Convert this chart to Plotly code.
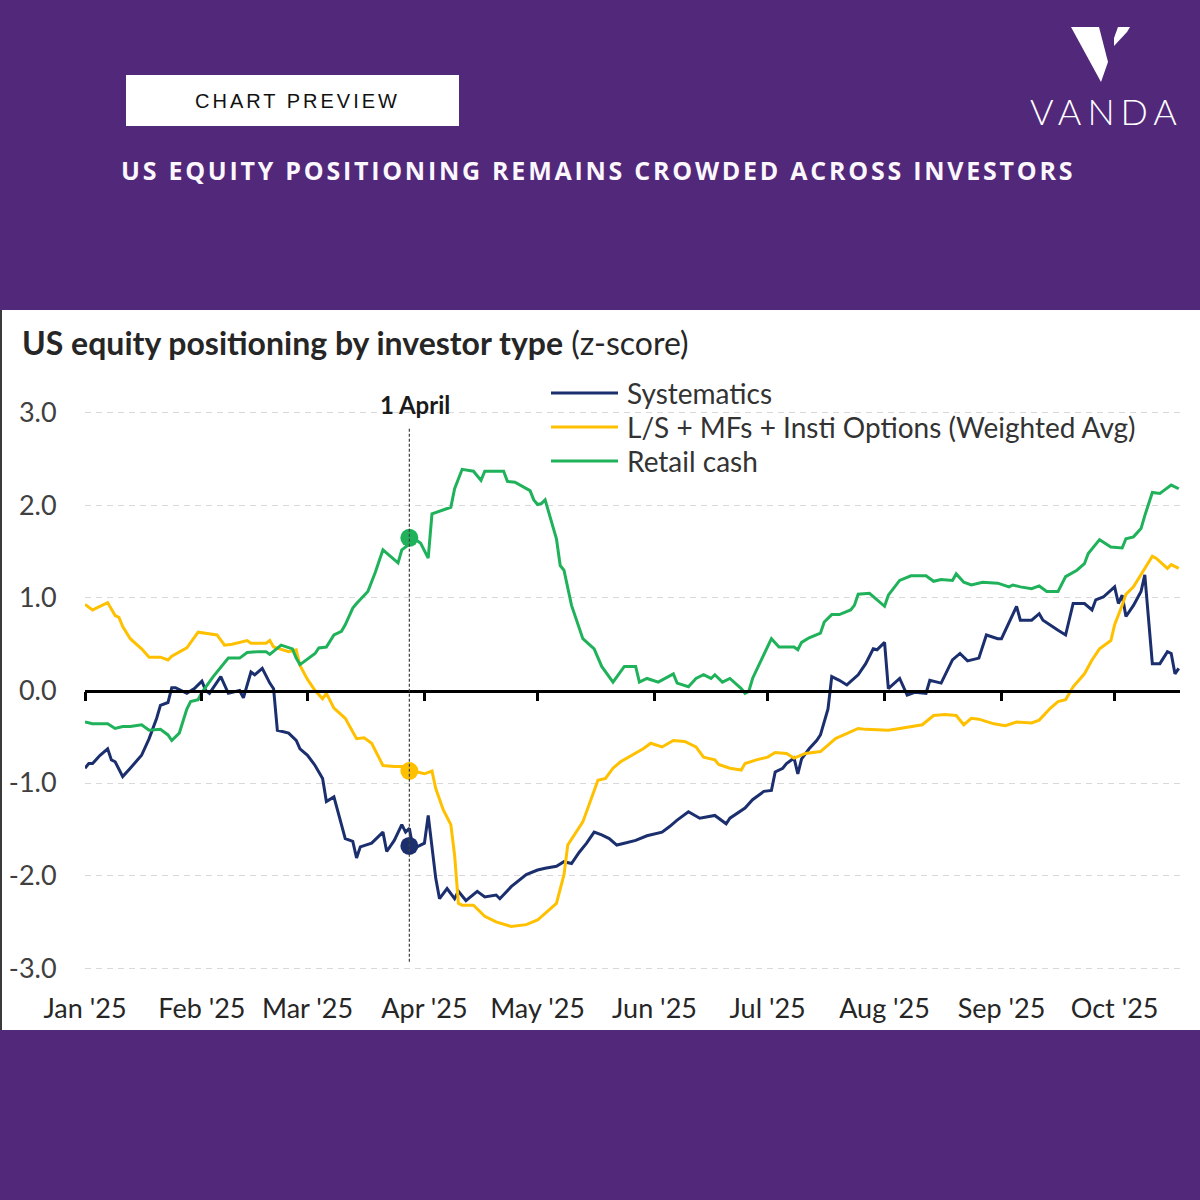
import plotly.graph_objects as go


##########
# Inputs #
##########

HEADER_LABEL = "CHART PREVIEW"
HEADER_TITLE = "US EQUITY POSITIONING REMAINS CROWDED ACROSS INVESTORS"
BRAND = "VANDA"
CHART_TITLE = "<b>US equity positioning by investor type</b> (z-score)"
EVENT_LABEL = "1 April"

SERIES_NAMES = [
    "Systematics",
    "L/S + MFs + Insti Options (Weighted Avg)",
    "Retail cash",
]

SYSTEMATICS_DATES = [
    "2025-01-01", "2025-01-02", "2025-01-03", "2025-01-05", "2025-01-07", "2025-01-08",
    "2025-01-09", "2025-01-11", "2025-01-13", "2025-01-16", "2025-01-18", "2025-01-20",
    "2025-01-21", "2025-01-23", "2025-01-24", "2025-01-25", "2025-01-28", "2025-01-30",
    "2025-02-01", "2025-02-02", "2025-02-03", "2025-02-06", "2025-02-08", "2025-02-10",
    "2025-02-11", "2025-02-12", "2025-02-14", "2025-02-15", "2025-02-17", "2025-02-19",
    "2025-02-20", "2025-02-21", "2025-02-24", "2025-02-26", "2025-02-27", "2025-03-01",
    "2025-03-03", "2025-03-05", "2025-03-06", "2025-03-08", "2025-03-10", "2025-03-11",
    "2025-03-13", "2025-03-14", "2025-03-15", "2025-03-18", "2025-03-21", "2025-03-22",
    "2025-03-24", "2025-03-26", "2025-03-27", "2025-03-28", "2025-03-29", "2025-04-01",
    "2025-04-02", "2025-04-04", "2025-04-05", "2025-04-07", "2025-04-09", "2025-04-10",
    "2025-04-12", "2025-04-15", "2025-04-17", "2025-04-20", "2025-04-21", "2025-04-24",
    "2025-04-28", "2025-05-01", "2025-05-03", "2025-05-06", "2025-05-08", "2025-05-10",
    "2025-05-12", "2025-05-14", "2025-05-16", "2025-05-18", "2025-05-20", "2025-05-22",
    "2025-05-24", "2025-05-27", "2025-05-30", "2025-06-03", "2025-06-05", "2025-06-07",
    "2025-06-10", "2025-06-13", "2025-06-17", "2025-06-20", "2025-06-21", "2025-06-25",
    "2025-06-27", "2025-06-30", "2025-07-02", "2025-07-03", "2025-07-05", "2025-07-06",
    "2025-07-08", "2025-07-09", "2025-07-10", "2025-07-12", "2025-07-14", "2025-07-15",
    "2025-07-17", "2025-07-18", "2025-07-20", "2025-07-22", "2025-07-25", "2025-07-27",
    "2025-07-29", "2025-07-30", "2025-08-01", "2025-08-02", "2025-08-05", "2025-08-07",
    "2025-08-09", "2025-08-12", "2025-08-13", "2025-08-16", "2025-08-19", "2025-08-21",
    "2025-08-23", "2025-08-26", "2025-08-28", "2025-08-31", "2025-09-01", "2025-09-05",
    "2025-09-06", "2025-09-09", "2025-09-11", "2025-09-12", "2025-09-16", "2025-09-18",
    "2025-09-20", "2025-09-23", "2025-09-25", "2025-09-26", "2025-09-28", "2025-10-01",
    "2025-10-02", "2025-10-03", "2025-10-04", "2025-10-06", "2025-10-08", "2025-10-09",
    "2025-10-11", "2025-10-13", "2025-10-15", "2025-10-16", "2025-10-17", "2025-10-18",
]
SYSTEMATICS_VALUES = [
    -0.84, -0.79, -0.79, -0.70, -0.63, -0.75,
    -0.77, -0.93, -0.84, -0.70, -0.52, -0.30,
    -0.16, -0.13, 0.03, 0.03, -0.03, 0.02,
    0.10, 0.00, -0.03, 0.15, -0.03, -0.01,
    0.00, -0.08, 0.20, 0.17, 0.24, 0.08,
    0.02, -0.43, -0.46, -0.54, -0.63, -0.70,
    -0.81, -0.95, -1.20, -1.15, -1.44, -1.60,
    -1.63, -1.81, -1.69, -1.65, -1.53, -1.74,
    -1.62, -1.45, -1.53, -1.49, -1.71, -1.65,
    -1.35, -2.03, -2.25, -2.14, -2.25, -2.17,
    -2.27, -2.17, -2.23, -2.21, -2.25, -2.12,
    -1.99, -1.94, -1.92, -1.90, -1.85, -1.87,
    -1.75, -1.65, -1.53, -1.56, -1.60, -1.67,
    -1.65, -1.62, -1.57, -1.53, -1.47, -1.40,
    -1.31, -1.38, -1.35, -1.44, -1.38, -1.27,
    -1.18, -1.09, -1.08, -0.88, -0.84, -0.79,
    -0.73, -0.90, -0.74, -0.63, -0.54, -0.48,
    -0.20, 0.15, 0.11, 0.06, 0.17, 0.29,
    0.45, 0.44, 0.52, 0.02, 0.13, -0.05,
    -0.02, -0.03, 0.11, 0.08, 0.33, 0.40,
    0.32, 0.35, 0.60, 0.56, 0.56, 0.91,
    0.76, 0.76, 0.83, 0.76, 0.65, 0.60,
    0.94, 0.94, 0.87, 0.98, 1.01, 1.12,
    0.94, 1.03, 0.80, 0.92, 1.07, 1.25,
    0.29, 0.29, 0.42, 0.40, 0.18, 0.24,
]

LS_MF_OPTIONS_DATES = [
    "2025-01-01", "2025-01-03", "2025-01-04", "2025-01-07", "2025-01-09", "2025-01-10",
    "2025-01-11", "2025-01-13", "2025-01-16", "2025-01-18", "2025-01-21", "2025-01-23",
    "2025-01-24", "2025-01-28", "2025-01-31", "2025-02-02", "2025-02-05", "2025-02-07",
    "2025-02-09", "2025-02-13", "2025-02-14", "2025-02-18", "2025-02-19", "2025-02-20",
    "2025-02-24", "2025-02-26", "2025-02-27", "2025-03-01", "2025-03-03", "2025-03-05",
    "2025-03-06", "2025-03-08", "2025-03-11", "2025-03-14", "2025-03-16", "2025-03-18",
    "2025-03-21", "2025-03-24", "2025-03-26", "2025-03-28", "2025-04-01", "2025-04-03",
    "2025-04-04", "2025-04-06", "2025-04-08", "2025-04-09", "2025-04-10", "2025-04-11",
    "2025-04-14", "2025-04-17", "2025-04-20", "2025-04-24", "2025-04-28", "2025-05-01",
    "2025-05-06", "2025-05-08", "2025-05-09", "2025-05-13", "2025-05-16", "2025-05-17",
    "2025-05-19", "2025-05-21", "2025-05-23", "2025-05-26", "2025-05-29", "2025-05-31",
    "2025-06-03", "2025-06-06", "2025-06-09", "2025-06-12", "2025-06-14", "2025-06-17",
    "2025-06-18", "2025-06-21", "2025-06-24", "2025-06-25", "2025-06-28", "2025-07-01",
    "2025-07-03", "2025-07-06", "2025-07-08", "2025-07-11", "2025-07-15", "2025-07-17",
    "2025-07-19", "2025-07-20", "2025-07-25", "2025-07-27", "2025-08-02", "2025-08-05",
    "2025-08-08", "2025-08-11", "2025-08-14", "2025-08-17", "2025-08-20", "2025-08-22",
    "2025-08-24", "2025-08-26", "2025-08-30", "2025-09-02", "2025-09-05", "2025-09-09",
    "2025-09-11", "2025-09-14", "2025-09-16", "2025-09-18", "2025-09-20", "2025-09-23",
    "2025-09-25", "2025-09-27", "2025-09-30", "2025-10-01", "2025-10-03", "2025-10-04",
    "2025-10-06", "2025-10-09", "2025-10-11", "2025-10-12", "2025-10-15", "2025-10-16",
    "2025-10-18",
]
LS_MF_OPTIONS_VALUES = [
    0.93, 0.87, 0.89, 0.95, 0.81, 0.79,
    0.69, 0.56, 0.45, 0.36, 0.36, 0.33,
    0.37, 0.46, 0.63, 0.62, 0.60, 0.49,
    0.50, 0.54, 0.51, 0.51, 0.54, 0.47,
    0.42, 0.44, 0.27, 0.12, 0.00, -0.09,
    -0.03, -0.19, -0.30, -0.52, -0.51, -0.57,
    -0.81, -0.82, -0.82, -0.86, -0.90, -0.87,
    -1.06, -1.29, -1.45, -1.78, -2.30, -2.32,
    -2.32, -2.44, -2.50, -2.55, -2.53, -2.48,
    -2.30, -1.99, -1.67, -1.42, -1.09, -0.97,
    -0.95, -0.84, -0.77, -0.70, -0.63, -0.57,
    -0.61, -0.54, -0.55, -0.61, -0.72, -0.75,
    -0.80, -0.84, -0.86, -0.79, -0.75, -0.72,
    -0.67, -0.68, -0.73, -0.68, -0.66, -0.59,
    -0.52, -0.50, -0.41, -0.42, -0.43, -0.41,
    -0.39, -0.37, -0.27, -0.26, -0.27, -0.37,
    -0.30, -0.31, -0.36, -0.38, -0.34, -0.35,
    -0.32, -0.19, -0.12, -0.10, 0.04, 0.18,
    0.33, 0.45, 0.54, 0.71, 0.92, 1.04,
    1.12, 1.32, 1.45, 1.43, 1.32, 1.36,
    1.32,
]

RETAIL_CASH_DATES = [
    "2025-01-01", "2025-01-03", "2025-01-07", "2025-01-09", "2025-01-11", "2025-01-13",
    "2025-01-16", "2025-01-18", "2025-01-21", "2025-01-23", "2025-01-24", "2025-01-26",
    "2025-01-28", "2025-01-29", "2025-01-31", "2025-02-01", "2025-02-04", "2025-02-07",
    "2025-02-08", "2025-02-11", "2025-02-13", "2025-02-16", "2025-02-18", "2025-02-19",
    "2025-02-22", "2025-02-25", "2025-02-26", "2025-02-27", "2025-03-03", "2025-03-04",
    "2025-03-06", "2025-03-08", "2025-03-10", "2025-03-11", "2025-03-13", "2025-03-14",
    "2025-03-17", "2025-03-19", "2025-03-21", "2025-03-25", "2025-03-26", "2025-03-28",
    "2025-03-29", "2025-03-31", "2025-04-02", "2025-04-03", "2025-04-05", "2025-04-08",
    "2025-04-09", "2025-04-11", "2025-04-14", "2025-04-16", "2025-04-17", "2025-04-22",
    "2025-04-23", "2025-04-25", "2025-04-29", "2025-04-30", "2025-05-01", "2025-05-02",
    "2025-05-03", "2025-05-06", "2025-05-07", "2025-05-08", "2025-05-10", "2025-05-13",
    "2025-05-16", "2025-05-18", "2025-05-21", "2025-05-24", "2025-05-27", "2025-05-28",
    "2025-05-30", "2025-06-02", "2025-06-06", "2025-06-07", "2025-06-10", "2025-06-12",
    "2025-06-14", "2025-06-16", "2025-06-17", "2025-06-19", "2025-06-21", "2025-06-24",
    "2025-06-25", "2025-06-26", "2025-06-27", "2025-07-02", "2025-07-04", "2025-07-08",
    "2025-07-09", "2025-07-10", "2025-07-12", "2025-07-15", "2025-07-16", "2025-07-18",
    "2025-07-20", "2025-07-23", "2025-07-24", "2025-07-25", "2025-07-28", "2025-07-30",
    "2025-08-01", "2025-08-02", "2025-08-05", "2025-08-08", "2025-08-12", "2025-08-14",
    "2025-08-16", "2025-08-19", "2025-08-20", "2025-08-22", "2025-08-24", "2025-08-27",
    "2025-08-31", "2025-09-03", "2025-09-04", "2025-09-06", "2025-09-09", "2025-09-11",
    "2025-09-13", "2025-09-16", "2025-09-18", "2025-09-21", "2025-09-23", "2025-09-24",
    "2025-09-27", "2025-09-30", "2025-10-03", "2025-10-04", "2025-10-06", "2025-10-08",
    "2025-10-09", "2025-10-11", "2025-10-13", "2025-10-14", "2025-10-16", "2025-10-18",
]
RETAIL_CASH_VALUES = [
    -0.34, -0.36, -0.36, -0.41, -0.39, -0.39,
    -0.37, -0.43, -0.42, -0.48, -0.54, -0.46,
    -0.20, -0.12, -0.10, -0.02, 0.15, 0.31,
    0.35, 0.35, 0.41, 0.42, 0.42, 0.39,
    0.49, 0.45, 0.35, 0.28, 0.40, 0.46,
    0.47, 0.60, 0.64, 0.71, 0.89, 0.94,
    1.07, 1.28, 1.52, 1.38, 1.52, 1.58,
    1.65, 1.59, 1.43, 1.91, 1.94, 1.98,
    2.18, 2.39, 2.37, 2.27, 2.37, 2.37,
    2.26, 2.25, 2.16, 2.06, 2.01, 2.02,
    2.06, 1.64, 1.35, 1.30, 0.92, 0.56,
    0.45, 0.26, 0.09, 0.26, 0.26, 0.09,
    0.13, 0.09, 0.18, 0.08, 0.04, 0.13,
    0.17, 0.13, 0.17, 0.09, 0.13, 0.02,
    -0.03, -0.01, 0.13, 0.56, 0.47, 0.47,
    0.44, 0.52, 0.57, 0.62, 0.74, 0.82,
    0.82, 0.87, 0.92, 1.04, 1.05, 0.98,
    0.91, 1.03, 1.19, 1.24, 1.24, 1.18,
    1.20, 1.19, 1.26, 1.17, 1.14, 1.17,
    1.16, 1.12, 1.14, 1.12, 1.10, 1.13,
    1.07, 1.07, 1.23, 1.30, 1.37, 1.48,
    1.63, 1.55, 1.54, 1.64, 1.66, 1.75,
    1.89, 2.14, 2.13, 2.16, 2.22, 2.18,
]

# Highlighted readings on the "1 April" line (Systematics, L/S..., Retail cash)
EVENT_DATE = "2025-03-28"
EVENT_VALUES = [-1.68, -0.87, 1.65]

Y_TICKS = [-3, -2, -1, 0, 1, 2, 3]
Y_TICK_LABELS = ["-3.0", "-2.0", "-1.0", "0.0", "1.0", "2.0", "3.0"]
X_RANGE = ["2025-01-01", "2025-10-18 08:00"]
Y_RANGE = [-3.15, 3.15]


######################
# Maps and constants #
######################

SERIES_COLOURS = ["#1b2f6e", "#ffc000", "#1fb25a"]
PURPLE = "#52287a"
TEXT_COLOUR = "#333333"
GRID_COLOUR = "#d9d9d9"
CHART_FONT = "Lato, Open Sans, sans-serif"
LINE_WIDTH = 3

WIDTH = 1200
HEIGHT = 1200
MARGIN = {"l": 85, "r": 20, "t": 399, "b": 218}


def paper_x(px):
    return (px - MARGIN["l"]) / (WIDTH - MARGIN["l"] - MARGIN["r"])


def paper_y(py):
    return (HEIGHT - MARGIN["b"] - py) / (HEIGHT - MARGIN["t"] - MARGIN["b"])


def paper_path(points):
    return "M " + " L ".join(f"{paper_x(x)},{paper_y(y)}" for x, y in points) + " Z"


##########
# Traces #
##########

figure = go.Figure()

series = [
    (SYSTEMATICS_DATES, SYSTEMATICS_VALUES),
    (LS_MF_OPTIONS_DATES, LS_MF_OPTIONS_VALUES),
    (RETAIL_CASH_DATES, RETAIL_CASH_VALUES),
]
for (dates, values), name, colour in zip(series, SERIES_NAMES, SERIES_COLOURS):
    figure.add_trace(
        go.Scatter(
            x=dates,
            y=values,
            name=name,
            mode="lines",
            line={"color": colour, "width": LINE_WIDTH},
            showlegend=False,
        )
    )

# Dots where the 1 April line meets each series
figure.add_trace(
    go.Scatter(
        x=[EVENT_DATE] * len(EVENT_VALUES),
        y=EVENT_VALUES,
        mode="markers",
        marker={"color": SERIES_COLOURS, "size": 18},
        xaxis="x2",
        showlegend=False,
    )
)


##########
# Shapes #
##########

shapes = [
    # White chart panel
    dict(type="rect", xref="paper", yref="paper",
         x0=paper_x(0), x1=paper_x(1200), y0=paper_y(1030), y1=paper_y(310),
         fillcolor="white", line={"width": 0}, layer="below"),
    dict(type="line", xref="paper", yref="paper",
         x0=paper_x(1), x1=paper_x(1), y0=paper_y(1030), y1=paper_y(310),
         line={"color": "#3a3a3a", "width": 2}),
    # Header label box
    dict(type="rect", xref="paper", yref="paper",
         x0=paper_x(126), x1=paper_x(459), y0=paper_y(126), y1=paper_y(75),
         fillcolor="white", line={"width": 0}),
    # Logo mark
    dict(type="path", xref="paper", yref="paper",
         path=paper_path([(1071, 27), (1099, 27), (1108, 62), (1101, 82)]),
         fillcolor="white", line={"width": 0}),
    dict(type="path", xref="paper", yref="paper",
         path=paper_path([(1118, 27), (1130, 27), (1127, 32), (1114, 46), (1114, 38)]),
         fillcolor="white", line={"width": 0}),
    # Blank space behind the legend and the event label
    dict(type="rect", xref="paper", yref="paper",
         x0=paper_x(535), x1=paper_x(1142), y0=paper_y(478), y1=paper_y(376),
         fillcolor="white", line={"width": 0}, layer="between"),
    dict(type="rect", xref="paper", yref="paper",
         x0=paper_x(350), x1=paper_x(457), y0=paper_y(424), y1=paper_y(388),
         fillcolor="white", line={"width": 0}, layer="between"),
    # 1 April marker line
    dict(type="line", xref="x", yref="y",
         x0=EVENT_DATE, x1=EVENT_DATE, y0=-2.93, y1=2.85,
         line={"color": "#404040", "width": 1.2, "dash": "3px,2px"}),
]

annotations = [
    dict(text=f"<span style='letter-spacing:3px'>{HEADER_LABEL}</span>",
         x=paper_x(297), y=paper_y(101), xanchor="center", yanchor="middle",
         font={"family": "Liberation Sans, Arial", "size": 20, "color": "#111111"}),
    dict(text=f"<b><span style='letter-spacing:2.75px'>{HEADER_TITLE}</span></b>",
         x=paper_x(598), y=paper_y(170), xanchor="center", yanchor="middle",
         font={"family": "Open Sans", "size": 25, "color": "#fbf7fd"}),
    dict(text=f"<span style='letter-spacing:6px'>{BRAND}</span>",
         x=paper_x(1106), y=paper_y(111), xanchor="center", yanchor="middle",
         font={"family": "Lato", "size": 36, "color": "white", "weight": 300}),
    dict(text=CHART_TITLE,
         x=paper_x(20), y=paper_y(342), xanchor="left", yanchor="middle",
         font={"family": CHART_FONT, "size": 32, "color": "#262626"}),
    dict(text=f"<b>{EVENT_LABEL}</b>",
         x=paper_x(415), y=paper_y(404), xanchor="center", yanchor="middle",
         font={"family": CHART_FONT, "size": 24, "color": "#1a1a1a"}),
]

# Legend drawn as line samples with labels
for i, (name, colour) in enumerate(zip(SERIES_NAMES, SERIES_COLOURS)):
    row_y = 393 + 34 * i
    shapes.append(
        dict(type="line", xref="paper", yref="paper",
             x0=paper_x(551), x1=paper_x(618), y0=paper_y(row_y), y1=paper_y(row_y),
             line={"color": colour, "width": LINE_WIDTH})
    )
    annotations.append(
        dict(text=name, x=paper_x(625), y=paper_y(row_y), xanchor="left", yanchor="middle",
             font={"family": CHART_FONT, "size": 28, "color": TEXT_COLOUR})
    )

for annotation in annotations:
    annotation.update(xref="paper", yref="paper", showarrow=False)


##########
# Layout #
##########

figure.update_layout(
    width=WIDTH,
    height=HEIGHT,
    margin={**MARGIN, "pad": 0},
    paper_bgcolor=PURPLE,
    plot_bgcolor="white",
    showlegend=False,
    hovermode=False,
    font={"family": CHART_FONT, "color": TEXT_COLOUR},
    shapes=shapes,
    annotations=annotations,
    xaxis={
        "type": "date",
        "range": X_RANGE,
        "tick0": "2025-01-01",
        "dtick": "M1",
        "tickformat": "%b '%y",
        "ticks": "outside",
        "ticklen": 3,
        "tickcolor": "rgba(0,0,0,0)",
        "tickfont": {"size": 27, "color": "#262626"},
        "showgrid": False,
        "showline": False,
        "zeroline": False,
        "automargin": False,
    },
    xaxis2={
        "type": "date",
        "overlaying": "x",
        "matches": "x",
        "anchor": "free",
        "position": (0 - Y_RANGE[0]) / (Y_RANGE[1] - Y_RANGE[0]),
        "side": "bottom",
        "tick0": "2025-01-01",
        "dtick": "M1",
        "ticks": "outside",
        "ticklen": 9,
        "tickwidth": 2.5,
        "tickcolor": "black",
        "showticklabels": False,
        "showline": True,
        "linecolor": "black",
        "linewidth": 2.5,
        "showgrid": False,
        "zeroline": False,
        "automargin": False,
    },
    yaxis={
        "range": Y_RANGE,
        "tickvals": Y_TICKS,
        "ticktext": Y_TICK_LABELS,
        "ticks": "outside",
        "ticklen": 22,
        "tickcolor": "rgba(0,0,0,0)",
        "tickfont": {"size": 27, "color": "#404040"},
        "showgrid": True,
        "gridcolor": GRID_COLOUR,
        "gridwidth": 1,
        "griddash": "6px,5px",
        "zeroline": False,
        "showline": False,
        "automargin": False,
    },
)

# The page's default body margin would offset the figure, so drop it
figure.write_html(
    "out.html",
    config={"displayModeBar": False},
    post_script="document.body.style.margin = '0'; document.body.style.background = '#52287a';",
)
